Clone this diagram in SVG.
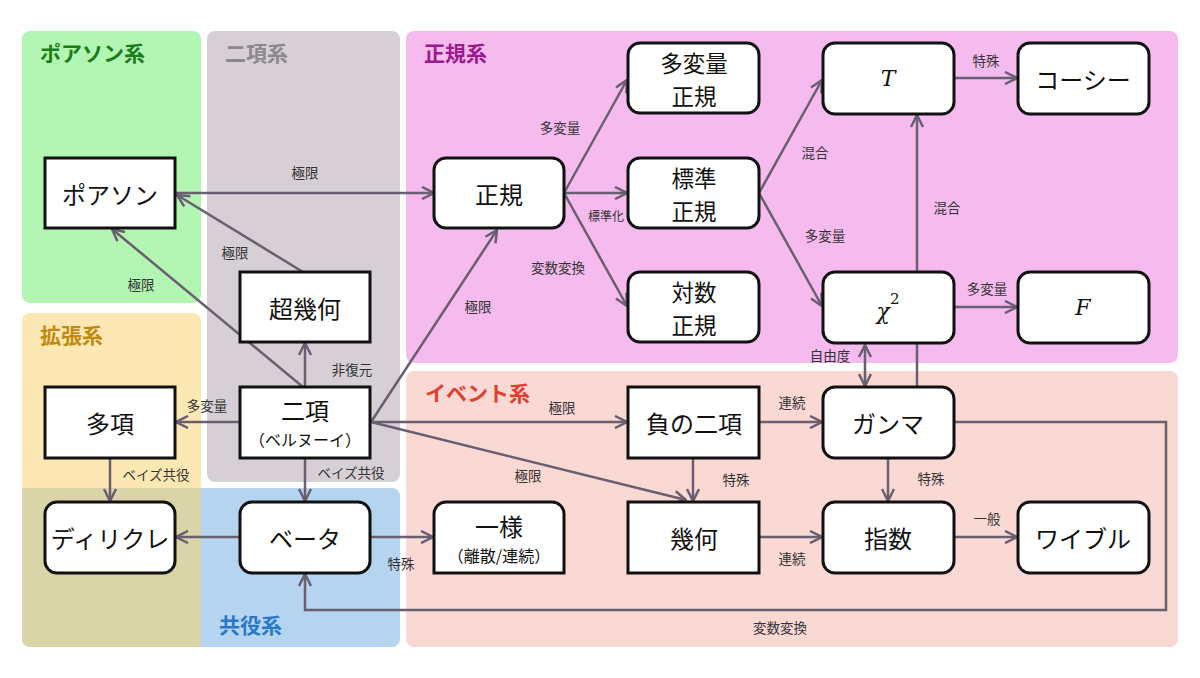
<svg xmlns="http://www.w3.org/2000/svg" width="1200" height="678" viewBox="0 0 1200 678">
<style>
text{font-family:"Noto Sans CJK JP","Noto Sans",sans-serif;}
.n rect,.n path{fill:#fff;stroke:#111;stroke-width:3;}
.n text{font-size:24px;fill:#111;text-anchor:middle;dominant-baseline:central;}
.n text.t2{font-size:22.5px;}
.n text.s{font-size:16px;}
.m{font-family:"DejaVu Serif","Liberation Serif",serif !important;font-style:italic;}
.g{font-size:21px;font-weight:bold;}
.e path,.e line,.e polyline{fill:none;stroke:#6a5f70;stroke-width:2.5;}
.l{font-size:13.5px;fill:#333;text-anchor:middle;dominant-baseline:central;}
</style>
<defs>
<marker id="a" viewBox="0 0 14 14" refX="13" refY="7" markerWidth="14" markerHeight="14" markerUnits="userSpaceOnUse" orient="auto-start-reverse">
<path d="M1,1 L13,7 L1,13" fill="none" stroke="#6a5f70" stroke-width="2.5"/>
</marker>
</defs>
<rect width="1200" height="678" fill="#fff"/>
<g id="groups">
<rect x="22" y="31" width="179" height="272" rx="8" fill="#b3f5b3"/>
<rect x="207" y="31" width="193" height="451" rx="8" fill="#d6d0d6"/>
<rect x="406" y="31" width="772" height="332" rx="8" fill="#f5baee"/>
<rect x="22" y="313" width="179" height="334" rx="8" fill="#fde8b3"/>
<rect x="22" y="488" width="378" height="159" rx="8" fill="#b5d4f0"/>
<path d="M22,488 H201 V647 H30 A8,8 0 0 1 22,639 Z" fill="#d9d5a9"/>
<rect x="406" y="371" width="772" height="276" rx="8" fill="#fad8d4"/>
<text class="g" x="40" y="52" fill="#1a7d1a" dominant-baseline="central">ポアソン系</text>
<text class="g" x="225" y="52" fill="#8c878c" dominant-baseline="central">二項系</text>
<text class="g" x="424" y="52" fill="#9b1a8c" dominant-baseline="central">正規系</text>
<text class="g" x="40" y="334" fill="#c08a10" dominant-baseline="central">拡張系</text>
<text class="g" x="219" y="624" fill="#2a78c8" dominant-baseline="central">共役系</text>
<text class="g" x="425" y="392" fill="#e04030" dominant-baseline="central">イベント系</text>
</g>
<g id="connectors" class="e">
<line x1="175" y1="193" x2="434" y2="193" marker-end="url(#a)"/>
<line x1="303" y1="272" x2="177" y2="195" marker-end="url(#a)"/>
<line x1="303" y1="387" x2="112" y2="229" marker-end="url(#a)"/>
<line x1="305" y1="387" x2="305" y2="343" marker-end="url(#a)"/>
<line x1="371" y1="422" x2="497" y2="230" marker-end="url(#a)"/>
<line x1="240" y1="422" x2="176" y2="422" marker-end="url(#a)"/>
<line x1="305" y1="458" x2="305" y2="501" marker-end="url(#a)"/>
<line x1="110" y1="458" x2="110" y2="501" marker-end="url(#a)"/>
<line x1="240" y1="537" x2="176" y2="537" marker-end="url(#a)"/>
<line x1="370" y1="537" x2="433" y2="537" marker-end="url(#a)"/>
<line x1="371" y1="422" x2="627" y2="422" marker-end="url(#a)"/>
<line x1="371" y1="422" x2="686" y2="500" marker-end="url(#a)"/>
<line x1="693" y1="458" x2="693" y2="501" marker-end="url(#a)"/>
<line x1="759" y1="422" x2="822" y2="422" marker-end="url(#a)"/>
<line x1="759" y1="537" x2="822" y2="537" marker-end="url(#a)"/>
<line x1="888" y1="458" x2="888" y2="501" marker-end="url(#a)"/>
<line x1="954" y1="537" x2="1017" y2="537" marker-end="url(#a)"/>
<polyline points="954,422 1166,422 1166,610 305,610 305,574" marker-end="url(#a)"/>
<line x1="865" y1="345" x2="865" y2="386" marker-start="url(#a)" marker-end="url(#a)"/>
<line x1="917" y1="387" x2="917" y2="115" marker-end="url(#a)"/>
<line x1="564" y1="193" x2="627" y2="80" marker-end="url(#a)"/>
<line x1="564" y1="193" x2="627" y2="193" marker-end="url(#a)"/>
<line x1="564" y1="193" x2="627" y2="306" marker-end="url(#a)"/>
<line x1="759" y1="193" x2="822" y2="80" marker-end="url(#a)"/>
<line x1="759" y1="193" x2="822" y2="306" marker-end="url(#a)"/>
<line x1="954" y1="78" x2="1017" y2="78" marker-end="url(#a)"/>
<line x1="954" y1="307" x2="1017" y2="307" marker-end="url(#a)"/>
</g>
<g id="labels">
<text class="l" x="305" y="172">極限</text>
<text class="l" x="235" y="252">極限</text>
<text class="l" x="141" y="284">極限</text>
<text class="l" x="352" y="369">非復元</text>
<text class="l" x="478" y="306">極限</text>
<text class="l" x="207" y="405">多変量</text>
<text class="l" x="351" y="472">ベイズ共役</text>
<text class="l" x="156" y="474">ベイズ共役</text>
<text class="l" x="401" y="563">特殊</text>
<text class="l" x="562" y="407">極限</text>
<text class="l" x="528" y="475">極限</text>
<text class="l" x="736" y="479">特殊</text>
<text class="l" x="792" y="402">連続</text>
<text class="l" x="792" y="558">連続</text>
<text class="l" x="931" y="478">特殊</text>
<text class="l" x="987" y="518">一般</text>
<text class="l" x="780" y="627">変数変換</text>
<text class="l" x="830" y="355">自由度</text>
<text class="l" x="947" y="207">混合</text>
<text class="l" x="560" y="127">多変量</text>
<text class="l" x="606" y="215" style="font-size:12px">標準化</text>
<text class="l" x="558" y="267">変数変換</text>
<text class="l" x="815" y="152">混合</text>
<text class="l" x="825" y="235">多変量</text>
<text class="l" x="986" y="60">特殊</text>
<text class="l" x="987" y="288">多変量</text>
</g>
<g id="n-poisson" class="n"><rect x="45" y="158" width="130" height="70"/><text x="110" y="193">ポアソン</text></g>
<g id="n-hypergeom" class="n"><rect x="240" y="272" width="130" height="70"/><text x="305" y="307">超幾何</text></g>
<g id="n-binom" class="n"><rect x="240" y="387" width="130" height="71"/><text x="305" y="409">二項</text><text class="s" x="305" y="439">（ベルヌーイ）</text></g>
<g id="n-multinom" class="n"><rect x="45" y="387" width="130" height="71"/><text x="110" y="422">多項</text></g>
<g id="n-dirichlet" class="n"><rect x="45" y="502" width="130" height="71" rx="12"/><text x="110" y="537">ディリクレ</text></g>
<g id="n-beta" class="n"><rect x="240" y="502" width="130" height="71" rx="12"/><text x="305" y="537">ベータ</text></g>
<g id="n-uniform" class="n"><path d="M434,573 V514 A12,12 0 0 1 446,502 H552 A12,12 0 0 1 564,514 V573 Z"/><text x="499" y="525">一様</text><text class="s" x="499" y="555">（離散/連続）</text></g>
<g id="n-normal" class="n"><rect x="434" y="158" width="130" height="70" rx="12"/><text x="499" y="193">正規</text></g>
<g id="n-mvnormal" class="n"><rect x="628" y="43" width="131" height="70" rx="12"/><text class="t2" x="694" y="62">多変量</text><text class="t2" x="694" y="95">正規</text></g>
<g id="n-stdnormal" class="n"><rect x="628" y="158" width="131" height="70" rx="12"/><text class="t2" x="694" y="177">標準</text><text class="t2" x="694" y="210">正規</text></g>
<g id="n-lognormal" class="n"><rect x="628" y="272" width="131" height="70" rx="12"/><text class="t2" x="694" y="291">対数</text><text class="t2" x="694" y="324">正規</text></g>
<g id="n-t" class="n"><rect x="823" y="43" width="131" height="71" rx="12"/><text class="m" x="888" y="78" style="font-size:22px">T</text></g>
<g id="n-cauchy" class="n"><rect x="1018" y="43" width="131" height="71" rx="12"/><text x="1083" y="78">コーシー</text></g>
<g id="n-chi2" class="n"><rect x="823" y="272" width="131" height="71" rx="12"/><text class="m" x="888" y="311" style="font-size:22px">χ<tspan dy="-12" style="font-size:15px;font-style:normal">2</tspan></text></g>
<g id="n-f" class="n"><rect x="1018" y="272" width="131" height="71" rx="12"/><text class="m" x="1083" y="307" style="font-size:22px">F</text></g>
<g id="n-negbinom" class="n"><rect x="628" y="387" width="131" height="71"/><text x="694" y="422">負の二項</text></g>
<g id="n-geom" class="n"><rect x="628" y="502" width="131" height="71"/><text x="694" y="537">幾何</text></g>
<g id="n-gamma" class="n"><rect x="823" y="387" width="131" height="71" rx="12"/><text x="888" y="422">ガンマ</text></g>
<g id="n-exp" class="n"><rect x="823" y="502" width="131" height="71" rx="12"/><text x="888" y="537">指数</text></g>
<g id="n-weibull" class="n"><rect x="1018" y="502" width="131" height="71" rx="12"/><text x="1083" y="537">ワイブル</text></g>
</svg>
